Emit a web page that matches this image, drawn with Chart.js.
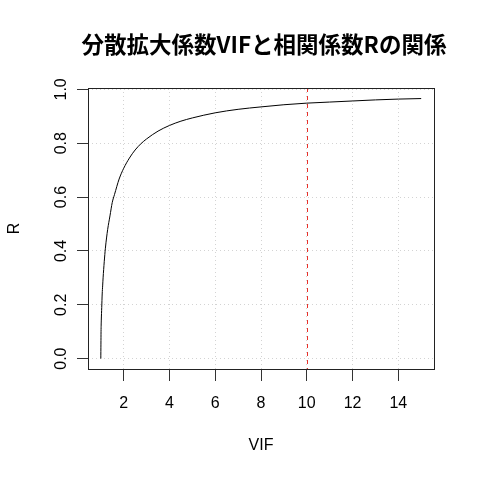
<!DOCTYPE html>
<html><head><meta charset="utf-8">
<script src="https://cdn.jsdelivr.net/npm/chart.js@4/dist/chart.umd.min.js"></script>
<style>html,body{margin:0;padding:0;background:#fff}canvas{display:block}</style>
</head><body>
<canvas id="c" width="480" height="480"></canvas>
<script>
const titleText = "分散拡大係数VIFと相関係数Rの関係";
const xLabel = "VIF";
const yLabel = "R";
const vifValues = [1, 1.01, 1.02, 1.04, 1.06, 1.08, 1.1, 1.15, 1.2, 1.3, 1.4, 1.5, 1.6, 1.8, 2, 2.25, 2.5, 2.75, 3, 3.5, 4, 4.5, 5, 6, 7, 8, 9, 10, 11, 12, 13, 14, 15];
const rValues = [0, 0.10, 0.14, 0.19, 0.24, 0.27, 0.30, 0.36, 0.41, 0.48, 0.53, 0.58, 0.61, 0.667, 0.707, 0.745, 0.775, 0.798, 0.816, 0.845, 0.866, 0.882, 0.894, 0.913, 0.926, 0.935, 0.943, 0.949, 0.953, 0.957, 0.961, 0.964, 0.966];
const xTicks = [2, 4, 6, 8, 10, 12, 14];
const yTicks = [0, 0.2, 0.4, 0.6, 0.8, 1.0];
const yTickLabels = ["0.0", "0.2", "0.4", "0.6", "0.8", "1.0"];
const refLineX = 10;

const FONT = '"Liberation Sans", Arial, sans-serif';

const textPlugin = {
  id: 'textPlugin',
  afterDraw(chart) {
    const ctx = chart.ctx;
    const a = chart.chartArea;
    const xs = chart.scales.x, ys = chart.scales.y;
    ctx.save();
    // reference line
    const px = Math.round(xs.getPixelForValue(refLineX)) + 0.5;
    ctx.strokeStyle = '#e8302a';
    ctx.lineWidth = 1;
    ctx.setLineDash([4, 4]);
    ctx.beginPath(); ctx.moveTo(px, a.top); ctx.lineTo(px, a.bottom); ctx.stroke();
    ctx.setLineDash([]);
    // box
    ctx.strokeStyle = '#222';
    ctx.lineWidth = 1;
    ctx.strokeRect(Math.round(a.left) + 0.5, Math.round(a.top) + 0.5, Math.round(a.right - a.left), Math.round(a.bottom - a.top));
    // title
    ctx.fillStyle = '#000';
    ctx.textAlign = 'center';
    ctx.textBaseline = 'middle';
    ctx.font = 'bold 22.5px "Noto Sans CJK JP", ' + FONT;
    ctx.fillText(titleText, (a.left + a.right) / 2 + 3, 44);
    // x tick labels
    ctx.font = '16px ' + FONT;
    xTicks.forEach(v => ctx.fillText(String(v), xs.getPixelForValue(v), 404));
    // x label
    ctx.fillText(xLabel, (a.left + a.right) / 2, 446);
    // y tick labels (rotated)
    yTicks.forEach((v, i) => {
      ctx.save();
      ctx.translate(62, ys.getPixelForValue(v));
      ctx.rotate(-Math.PI / 2);
      ctx.fillText(yTickLabels[i], 0, 0);
      ctx.restore();
    });
    ctx.save();
    ctx.translate(15, (a.top + a.bottom) / 2);
    ctx.rotate(-Math.PI / 2);
    ctx.fillText(yLabel, 0, 0);
    ctx.restore();
    ctx.restore();
  }
};

new Chart(document.getElementById('c'), {
  type: 'line',
  data: {
    datasets: [{
      data: vifValues.map((v, i) => ({x: v, y: rValues[i]})),
      borderColor: '#000',
      borderWidth: 1,
      pointRadius: 0,
      fill: false,
      cubicInterpolationMode: 'monotone'
    }]
  },
  options: {
    responsive: false,
    animation: false,
    events: [],
    layout: { padding: { top: 88, right: 46, left: 0, bottom: 0 } },
    plugins: { legend: { display: false }, tooltip: { enabled: false }, title: { display: false } },
    scales: {
      x: {
        type: 'linear', min: 0.44, max: 15.56,
        afterBuildTicks: s => { s.ticks = xTicks.map(v => ({value: v})); },
        afterFit: s => { s.height = 111; },
        ticks: { display: false },
        grid: { color: '#d3d3d3', lineWidth: 1, drawTicks: true, tickLength: 12, tickColor: '#333', tickWidth: 1, tickBorderDash: [] },
        border: { display: false, dash: [1, 3] }
      },
      y: {
        type: 'linear', min: -0.0386, max: 1.0052,
        afterBuildTicks: s => { s.ticks = yTicks.map(v => ({value: v})); },
        afterFit: s => { s.width = 88; },
        ticks: { display: false },
        grid: { color: '#d3d3d3', lineWidth: 1, drawTicks: true, tickLength: 11, tickColor: '#333', tickWidth: 1, tickBorderDash: [] },
        border: { display: false, dash: [1, 3] }
      }
    }
  },
  plugins: [textPlugin]
});
</script>
</body></html>
